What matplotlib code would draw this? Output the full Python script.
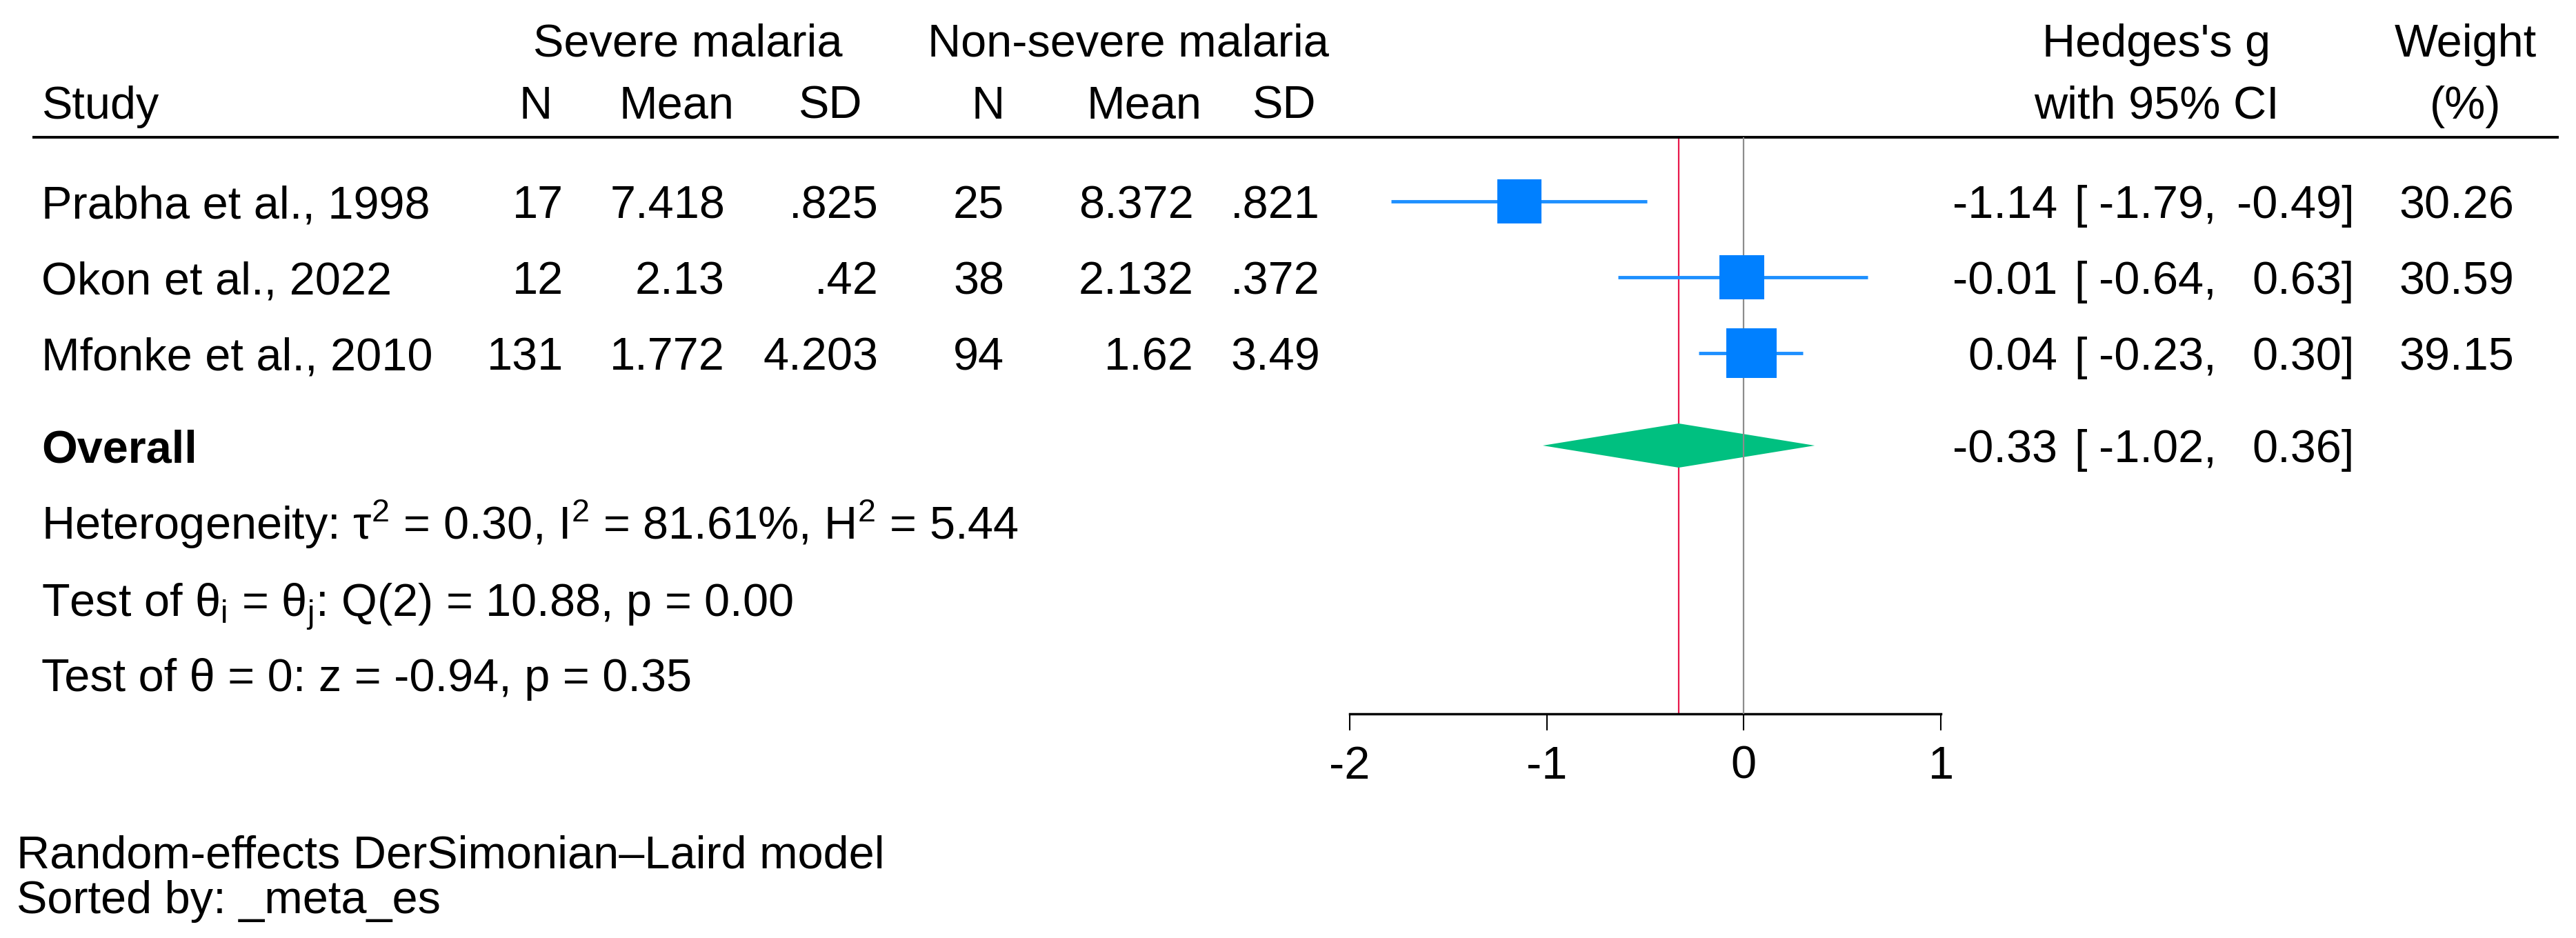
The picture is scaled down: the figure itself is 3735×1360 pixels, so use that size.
import numpy as np
import matplotlib.pyplot as plt

plt.rcParams['font.family'] = ['Liberation Sans', 'DejaVu Sans']
plt.rcParams['mathtext.fontset'] = 'custom'
plt.rcParams['mathtext.rm'] = 'Liberation Sans'
plt.rcParams['mathtext.it'] = 'Liberation Sans'
plt.rcParams['mathtext.bf'] = 'Liberation Sans:bold'

# study data
studies = ["Prabha et al., 1998", "Okon et al., 2022", "Mfonke et al., 2010"]
sev_n = [17, 12, 131]
sev_mean = [7.418, 2.13, 1.772]
sev_sd = [0.825, 0.42, 4.203]
non_n = [25, 38, 94]
non_mean = [8.372, 2.132, 1.62]
non_sd = [0.821, 0.372, 3.49]
g = [-1.14, -0.01, 0.04]
g_lo = [-1.79, -0.64, -0.23]
g_hi = [-0.49, 0.63, 0.30]
weight = [30.26, 30.59, 39.15]

overall = [-0.33, -1.02, 0.36]   # estimate, lower, upper
ticks = [-2, -1, 0, 1]

het_text = 'Heterogeneity: τ$^{2}$ = 0.30, I$^{2}$ = 81.61%, H$^{2}$ = 5.44'
q_text = r'Test of θ$_{\mathrm{i}}$ = θ$_{\mathrm{j}}$: Q(2) = 10.88, p = 0.00'
z_text = 'Test of θ = 0: z = -0.94, p = 0.35'
footer = ['Random-effects DerSimonian–Laird model', 'Sorted by: _meta_es']

W, H = 3735, 1360
FS = 48
BLUE = '#0080FF'
CI_BLUE = '#1E90FF'
GREEN = '#00C080'
RED = '#E8174A'


def stata_num(v):
    s = f"{v:g}"
    if s.startswith('0.'):
        s = s[1:]
    return s


# row layout (row units; one row = 110 px)
row_px = 110.0
top_px = 292.0
y_head1 = (57 - top_px) / row_px
y_head2 = (147 - top_px) / row_px
y_rule = (199 - top_px) / row_px
y_overall = (646 - top_px) / row_px
y_het = (757 - top_px) / row_px
y_q = (869 - top_px) / row_px
y_z = (978 - top_px) / row_px
y_axis = (1035 - top_px) / row_px
y_foot = [(1234 - top_px) / row_px, (1300 - top_px) / row_px]
base = 24.5 / row_px   # cap centre -> baseline

fig = plt.figure(figsize=(W / 100, H / 100), dpi=100)
ax = fig.add_axes([0, 0, 1, 1])
unit = (2814 - 1957) / 3.0
ax.set_xlim(-2 - 1957 / unit, 1 + (W - 2814) / unit)
ax.set_ylim((H - top_px) / row_px, -top_px / row_px)

for s in ['top', 'left', 'right']:
    ax.spines[s].set_visible(False)
ax.spines['bottom'].set_position(('data', y_axis))
ax.spines['bottom'].set_bounds(ticks[0], ticks[-1])
ax.spines['bottom'].set_linewidth(2.5)
ax.set_xticks(ticks)
ax.set_xticklabels([str(t) for t in ticks])
ax.tick_params(axis='x', direction='out', length=17, width=1.5, pad=16,
               labelsize=FS)
ax.set_yticks([])

tr = ax.get_yaxis_transform()


def txt(xpx, y, s, ha='left', **kw):
    ax.text(xpx / W, y + base, s, transform=tr, ha=ha, va='baseline',
            fontsize=kw.pop('fontsize', FS), **kw)


# headers
txt(997, y_head1, 'Severe malaria', ha='center')
txt(1636, y_head1, 'Non-severe malaria', ha='center')
txt(3127, y_head1, "Hedges's g", ha='center')
txt(3575, y_head1, 'Weight', ha='center')
txt(60, y_head2, 'Study')
for xc, lab in zip([777, 981, 1203, 1433, 1659, 1861],
                   ['N', 'Mean', 'SD', 'N', 'Mean', 'SD']):
    txt(xc, y_head2, lab, ha='center')
txt(3127, y_head2, 'with 95% CI', ha='center')
txt(3575, y_head2, '(%)', ha='center')

ax.plot([47 / W, 3710 / W], [y_rule, y_rule], transform=tr, color='black',
        lw=2.8, solid_capstyle='butt')

rows = np.arange(len(studies))

# reference lines
ax.vlines(overall[0], y_rule, y_axis, color=RED, lw=1.6, zorder=1)
ax.vlines(0, y_rule, y_axis, color='#8C8C8C', lw=1.6, zorder=3)

# CIs and boxes
ax.hlines(rows, g_lo, g_hi, color=CI_BLUE, lw=3.5, zorder=2)
side = 11.63 * np.sqrt(weight) * 0.72
ax.scatter(g, rows, s=side ** 2, marker='s', color=BLUE, linewidths=0,
           zorder=4)

# overall diamond
hh = 32 / row_px
ax.fill([overall[1], overall[0], overall[2], overall[0]],
        [y_overall, y_overall - hh, y_overall, y_overall + hh],
        color=GREEN, lw=0, zorder=2)

# table rows
for i, name in enumerate(studies):
    txt(60, i, name)
    txt(817, i, str(sev_n[i]), ha='right')
    txt(1051, i, stata_num(sev_mean[i]), ha='right')
    txt(1274, i, stata_num(sev_sd[i]), ha='right')
    txt(1456, i, str(non_n[i]), ha='right')
    txt(1731, i, stata_num(non_mean[i]), ha='right')
    txt(1914, i, stata_num(non_sd[i]), ha='right')
    txt(2983, i, f"{g[i]:.2f}", ha='right')
    txt(3007, i, '[')
    txt(3214, i, f"{g_lo[i]:.2f},", ha='right')
    txt(3414, i, f"{g_hi[i]:.2f}]", ha='right')
    txt(3645, i, f"{weight[i]:.2f}", ha='right')

txt(60, y_overall, 'Overall', fontweight='bold')
txt(2983, y_overall, f"{overall[0]:.2f}", ha='right')
txt(3007, y_overall, '[')
txt(3214, y_overall, f"{overall[1]:.2f},", ha='right')
txt(3414, y_overall, f"{overall[2]:.2f}]", ha='right')

txt(60, y_het, het_text)
txt(60, y_q, q_text)
txt(60, y_z, z_text)
for yf, line in zip(y_foot, footer):
    txt(24, yf, line)

fig.savefig('out.png', dpi=100, facecolor='white')
